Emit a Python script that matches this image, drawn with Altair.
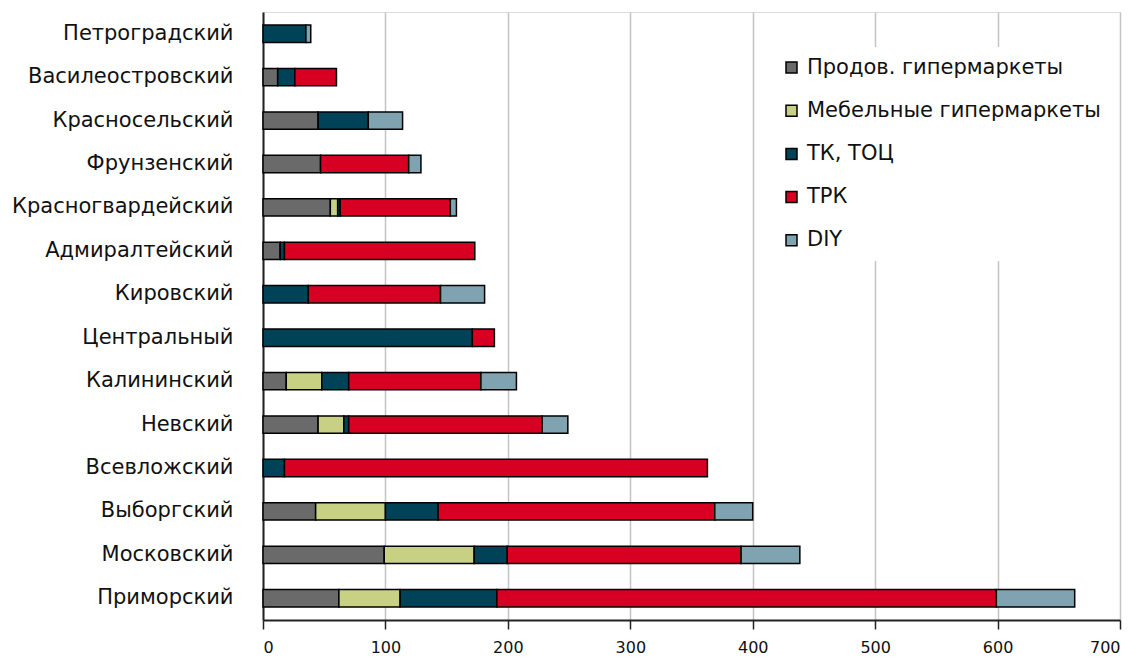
import altair as alt
import pandas as pd

districts = ["Петроградский", "Василеостровский", "Красносельский", "Фрунзенский",
             "Красногвардейский", "Адмиралтейский", "Кировский", "Центральный",
             "Калининский", "Невский", "Всевложский", "Выборгский", "Московский",
             "Приморский"]
series = ["Продов. гипермаркеты", "Мебельные гипермаркеты", "ТК, ТОЦ", "ТРК", "DIY"]
colors = ["#6b6a6a", "#c8d084", "#004359", "#d70022", "#7fa3b0"]

prodov = [0, 12, 45, 47, 55, 14, 0, 0, 19, 45, 0, 43, 99, 62]
mebel = [0, 0, 0, 0, 6, 0, 0, 0, 29, 21, 0, 57, 73.5, 50]
tk = [35, 14, 41, 0, 2, 3.5, 37, 171, 22, 4, 17.5, 43, 27, 79]
trk = [0, 34, 0, 72, 90, 155.5, 108, 18, 108, 158, 345.5, 226, 191, 408]
diy = [4, 0, 28, 10, 5, 0, 36, 0, 29, 21, 0, 31, 48, 64]
x_ticks = [0, 100, 200, 300, 400, 500, 600, 700]

rows = []
for si, (name, vals) in enumerate(zip(series, [prodov, mebel, tk, trk, diy])):
    for d, v in zip(districts, vals):
        if v > 0:
            rows.append({"district": d, "series": name, "value": v, "order": si})
df = pd.DataFrame(rows)

font = "DejaVu Sans"

chart = alt.Chart(df).mark_bar(stroke="black", strokeWidth=1.5).encode(
    y=alt.Y("district:N", sort=districts, title=None,
            scale=alt.Scale(paddingInner=0.6, paddingOuter=0.3),
            axis=alt.Axis(ticks=False, labelPadding=30, labelFontSize=21,
                          labelFont=font, labelColor="#111111", labelLimit=400,
                          domainColor="#222222", domainWidth=2, grid=False)),
    x=alt.X("value:Q", stack="zero", title=None,
            scale=alt.Scale(domain=[0, 700], nice=False),
            axis=alt.Axis(values=x_ticks, tickSize=9, tickColor="#222222", tickWidth=1.5,
                          domainColor="#222222", domainWidth=2,
                          labelFontSize=16, labelFont=font, labelColor="#111111",
                          labelPadding=10, grid=True, gridColor="#c4c4c4", gridWidth=1.5)),
    color=alt.Color("series:N", scale=alt.Scale(domain=series, range=colors),
                    legend=alt.Legend(title=None, orient="none", legendX=508, legendY=35,
                                      fillColor="white", padding=10,
                                      symbolType="square", symbolSize=121,
                                      symbolStrokeColor="black", symbolStrokeWidth=1.5,
                                      labelFontSize=21, labelFont=font, labelColor="#111111",
                                      labelOffset=5, rowPadding=21.2, labelLimit=400)),
    order=alt.Order("order:Q", sort="ascending"),
).properties(
    width=857, height=608,
    autosize=alt.AutoSizeParams(type="none"),
    padding={"left": 263, "top": 12, "right": 20, "bottom": 46},
).configure_view(stroke="#404040", strokeWidth=2).configure(background="white")

chart.save("out.html", embed_options={"renderer": "svg", "actions": False})
